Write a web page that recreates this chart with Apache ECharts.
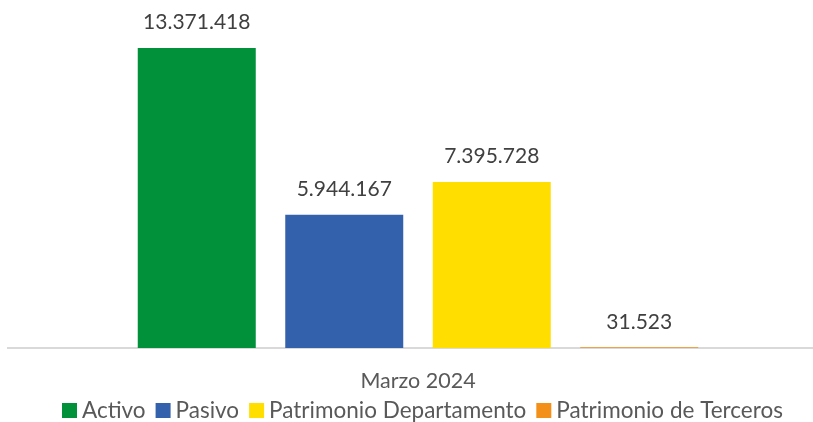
<!DOCTYPE html>
<html>
<head>
<meta charset="utf-8">
<script src="https://cdn.jsdelivr.net/npm/echarts@6/dist/echarts.min.js"></script>
<style>
  html, body { margin: 0; padding: 0; background: #fff; }
  #main { width: 813px; height: 422px; }
</style>
</head>
<body>
<div id="main"></div>
<script>
// datos del balance
var categorias = ['Marzo 2024'];
var nombres = ['Activo', 'Pasivo', 'Patrimonio Departamento', 'Patrimonio de Terceros'];
var valores = [13371418, 5944167, 7395728, 31523];
var colores = ['#00913A', '#3461AC', '#FFDE00', '#F39019'];

function formato(v) {
    return String(v).replace(/\B(?=(\d{3})+(?!\d))/g, '.');
}

var series = nombres.map(function (n, i) {
    return {
        name: n,
        type: 'bar',
        data: [valores[i]],
        barWidth: 118,
        barGap: '25%',
        itemStyle: { color: colores[i] },
        label: {
            show: true,
            position: 'top',
            distance: 15,
            color: '#404040',
            fontSize: 21,
            fontFamily: 'Lato',
            formatter: function (p) { return formato(p.value); }
        }
    };
});

var myChart = echarts.init(document.getElementById('main'));
var option = {
    animation: false,
    textStyle: { fontFamily: 'Lato' },
    grid: { left: 23, right: 0, top: 34, bottom: 74 },
    graphic: [{
        type: 'line',
        shape: { x1: 7, y1: 348, x2: 23, y2: 348 },
        style: { stroke: '#D9D9D9', lineWidth: 2 }
    }],
    legend: {
        data: nombres,
        top: 399,
        left: 62,
        padding: 0,
        itemWidth: 15,
        itemHeight: 15,
        itemGap: 10,
        icon: 'rect',
        textStyle: { color: '#595959', fontSize: 22.5, lineHeight: 22, fontFamily: 'Lato' }
    },
    xAxis: {
        type: 'category',
        data: categorias,
        axisLine: { lineStyle: { color: '#D9D9D9', width: 2 } },
        axisTick: { show: false },
        axisLabel: { color: '#595959', fontSize: 21.5, margin: 22, fontFamily: 'Lato' }
    },
    yAxis: {
        type: 'value',
        min: 0,
        max: 14000000,
        show: false,
        splitLine: { show: false }
    },
    series: series
};
myChart.setOption(option);
</script>
</body>
</html>
